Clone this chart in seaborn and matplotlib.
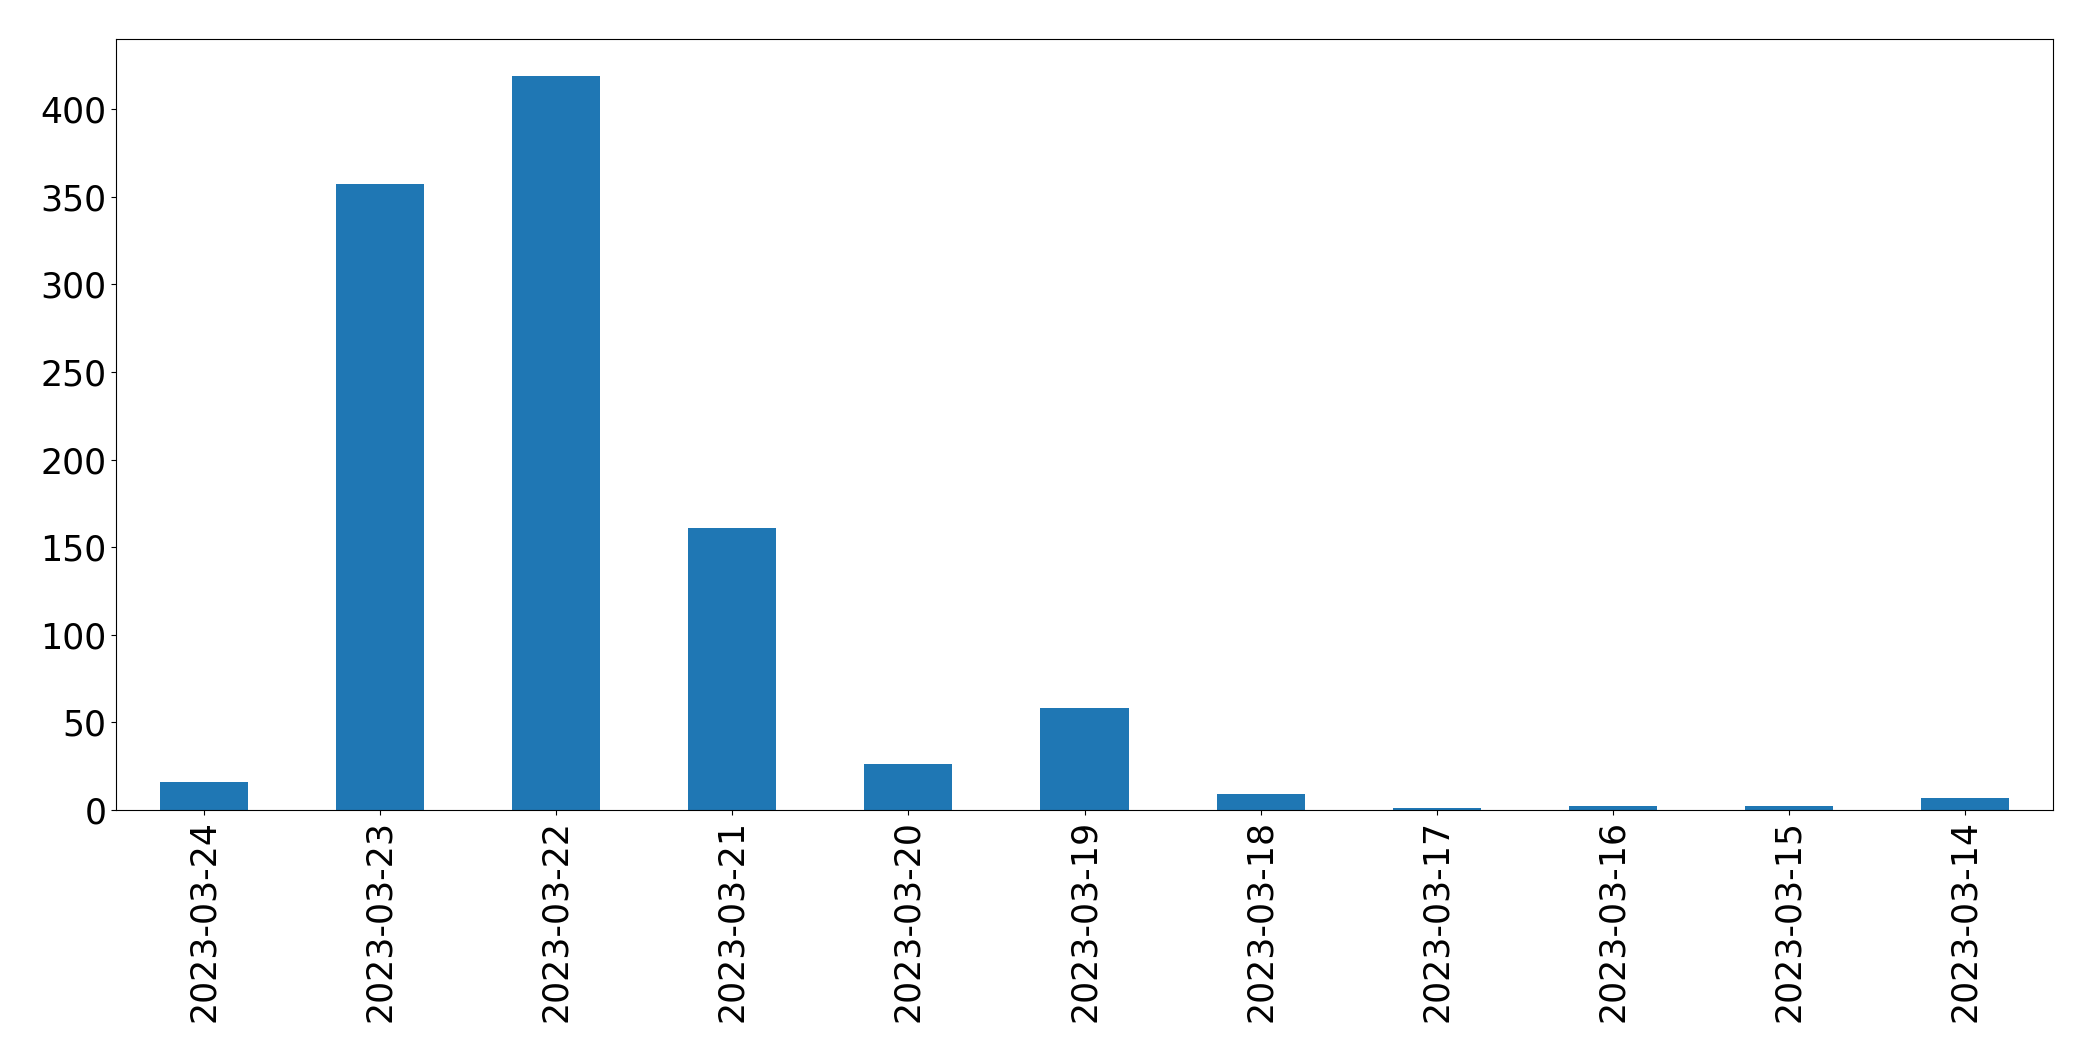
import matplotlib
matplotlib.use("Agg")
import matplotlib.pyplot as plt
import seaborn as sns
import pandas as pd

dates = ["2023-03-24", "2023-03-23", "2023-03-22", "2023-03-21", "2023-03-20",
         "2023-03-19", "2023-03-18", "2023-03-17", "2023-03-16", "2023-03-15",
         "2023-03-14"]
counts = [16, 357, 419, 161, 26, 58, 9, 1, 2, 2, 7]

df = pd.DataFrame({"date": dates, "count": counts})

fig = plt.figure(figsize=(20.93, 10.61), dpi=100)
ax = fig.add_axes([116/2093, 1 - 810/1061, (2053 - 116)/2093, (810 - 39)/1061])
sns.barplot(data=df, x="date", y="count", order=dates, color="#1f77b4",
            saturation=1, width=0.5, linewidth=0, ax=ax)
ax.set_xlim(-0.5, len(dates) - 0.5)
ax.set_ylim(0, max(counts) * 1.05)
ax.set_xlabel("")
ax.set_ylabel("")
for s in ax.spines.values():
    s.set_color("black")
ax.tick_params(axis="both", labelsize=25)
ax.tick_params(axis="x", labelrotation=90)
fig.savefig("out.png", dpi=100)
